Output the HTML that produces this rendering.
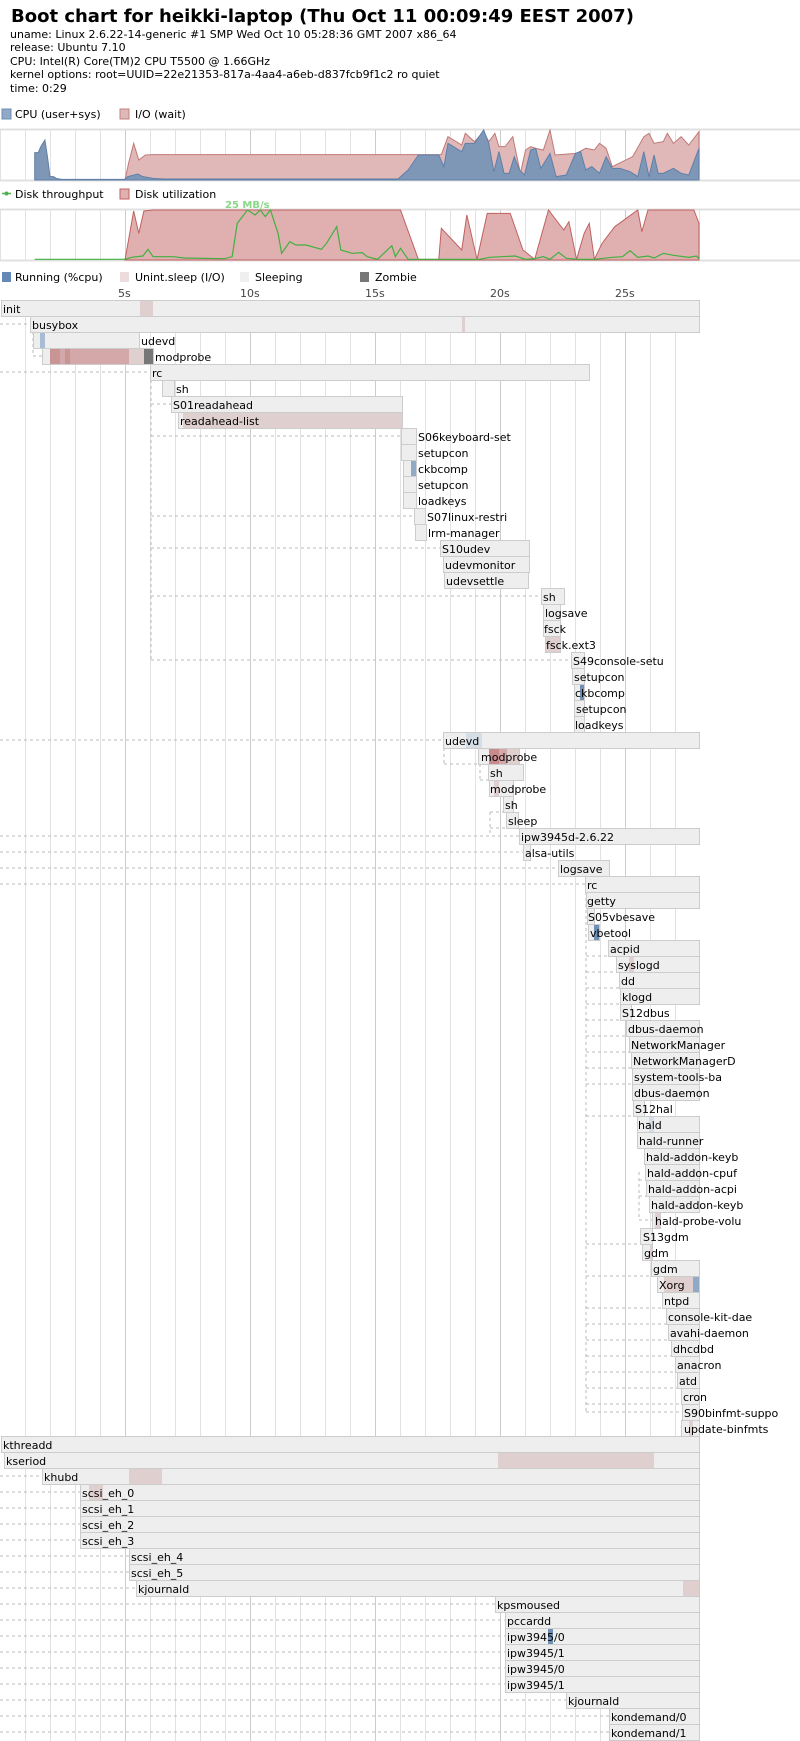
<!DOCTYPE html>
<html><head><meta charset="utf-8"><style>
html,body{margin:0;padding:0;background:#fff;width:800px;height:1741px;overflow:hidden}
svg{display:block}
text{font-family:"DejaVu Sans","Liberation Sans",sans-serif;font-size:11px;fill:#000}
.b{fill:#eeeeee;stroke:#cccccc;stroke-width:1}
.p{fill:#e0cfcf}
.pd{fill:#d4a8a8}
.bl{fill:#8fa9c7}
.lb{fill:#d5dde6}
.d{stroke:#bbbbbb;stroke-dasharray:3,3;fill:none;stroke-width:1}
</style></head><body>
<svg width="800" height="1741" viewBox="0 0 800 1741" xmlns="http://www.w3.org/2000/svg">
<text x="11" y="22" style="font-size:18px;font-weight:bold">Boot chart for heikki-laptop (Thu Oct 11 00:09:49 EEST 2007)</text>
<text x="10" y="38">uname: Linux 2.6.22-14-generic #1 SMP Wed Oct 10 05:28:36 GMT 2007 x86_64</text>
<text x="10" y="51">release: Ubuntu 7.10</text>
<text x="10" y="65">CPU: Intel(R) Core(TM)2 CPU T5500 @ 1.66GHz</text>
<text x="10" y="78">kernel options: root=UUID=22e21353-817a-4aa4-a6eb-d837fcb9f1c2 ro quiet</text>
<text x="10" y="92">time: 0:29</text>

<!-- legend 1 -->
<rect x="2" y="109" width="9" height="10" fill="#8fa9c7" stroke="#6f8fb5"/>
<text x="15" y="118">CPU (user+sys)</text>
<rect x="120" y="109" width="9" height="10" fill="#e0b8b8" stroke="#c08080"/>
<text x="135" y="118">I/O (wait)</text>

<!-- CPU chart -->
<g>
<line x1="0" y1="129.5" x2="800" y2="129.5" stroke="#e0e0e0" stroke-width="2"/>
<line x1="0" y1="180.5" x2="800" y2="180.5" stroke="#e0e0e0" stroke-width="2"/>
<g stroke="#e2e2e2" stroke-width="1">
<line x1="0.5" y1="130" x2="0.5" y2="180"/><line x1="25.5" y1="130" x2="25.5" y2="180"/><line x1="50.5" y1="130" x2="50.5" y2="180"/><line x1="75.5" y1="130" x2="75.5" y2="180"/><line x1="100.5" y1="130" x2="100.5" y2="180"/><line x1="125.5" y1="130" x2="125.5" y2="180" stroke="#ccc"/><line x1="150.5" y1="130" x2="150.5" y2="180"/><line x1="175.5" y1="130" x2="175.5" y2="180"/><line x1="200.5" y1="130" x2="200.5" y2="180"/><line x1="225.5" y1="130" x2="225.5" y2="180"/><line x1="250.5" y1="130" x2="250.5" y2="180" stroke="#ccc"/><line x1="275.5" y1="130" x2="275.5" y2="180"/><line x1="300.5" y1="130" x2="300.5" y2="180"/><line x1="325.5" y1="130" x2="325.5" y2="180"/><line x1="350.5" y1="130" x2="350.5" y2="180"/><line x1="375.5" y1="130" x2="375.5" y2="180" stroke="#ccc"/><line x1="400.5" y1="130" x2="400.5" y2="180"/><line x1="425.5" y1="130" x2="425.5" y2="180"/><line x1="450.5" y1="130" x2="450.5" y2="180"/><line x1="475.5" y1="130" x2="475.5" y2="180"/><line x1="500.5" y1="130" x2="500.5" y2="180" stroke="#ccc"/><line x1="525.5" y1="130" x2="525.5" y2="180"/><line x1="550.5" y1="130" x2="550.5" y2="180"/><line x1="575.5" y1="130" x2="575.5" y2="180"/><line x1="600.5" y1="130" x2="600.5" y2="180"/><line x1="625.5" y1="130" x2="625.5" y2="180" stroke="#ccc"/><line x1="650.5" y1="130" x2="650.5" y2="180"/><line x1="675.5" y1="130" x2="675.5" y2="180"/><line x1="699.5" y1="130" x2="699.5" y2="180"/>
</g>
<g transform="scale(0.5102,0.33333)">
<polygon fill="#e0b8b8" stroke="#c07878" stroke-width="1" vector-effect="non-scaling-stroke" points="245,540 252,490 262,430 272,480 285,465 300,464 865,464 878,410 905,435 912,400 930,425 948,395 958,425 970,400 978,440 990,440 1005,410 1020,520 1030,450 1040,440 1050,445 1065,450 1078,390 1088,465 1130,460 1148,445 1165,450 1175,430 1188,445 1200,500 1240,470 1262,410 1272,400 1282,430 1300,425 1308,400 1320,430 1335,410 1350,435 1370,395 1370,540"/>
<polygon fill="#7f97b7" stroke="#5f7fa8" stroke-width="1" vector-effect="non-scaling-stroke" points="68,540 68,458 75,458 80,440 88,420 93,470 98,530 105,530 110,535 120,538 245,538 250,530 270,522 280,530 300,535 320,537 780,537 800,510 820,465 860,465 870,500 878,430 905,455 912,430 930,430 948,390 958,430 968,515 978,455 988,520 998,520 1008,470 1018,510 1028,525 1040,450 1050,445 1060,505 1078,460 1090,530 1110,525 1128,460 1138,455 1148,510 1160,500 1175,520 1188,470 1200,505 1215,505 1235,515 1250,530 1262,455 1272,530 1282,465 1290,520 1300,520 1320,505 1335,520 1350,525 1370,445 1370,540"/>
</g>
</g>

<!-- legend 2 -->
<line x1="2" y1="193.5" x2="11" y2="193.5" stroke="#50b050" stroke-width="1.5"/>
<circle cx="6.5" cy="193.5" r="2" fill="#50b050"/>
<text x="15" y="198">Disk throughput</text>
<rect x="120" y="189" width="9" height="10" fill="#e0b0b0" stroke="#c06060"/>
<text x="135" y="198">Disk utilization</text>

<!-- disk chart -->
<g>
<line x1="0" y1="209.5" x2="800" y2="209.5" stroke="#e0e0e0" stroke-width="2"/>
<line x1="0" y1="260.5" x2="800" y2="260.5" stroke="#e0e0e0" stroke-width="2"/>
<g stroke="#e2e2e2" stroke-width="1">
<line x1="0.5" y1="210" x2="0.5" y2="260"/><line x1="25.5" y1="210" x2="25.5" y2="260"/><line x1="50.5" y1="210" x2="50.5" y2="260"/><line x1="75.5" y1="210" x2="75.5" y2="260"/><line x1="100.5" y1="210" x2="100.5" y2="260"/><line x1="125.5" y1="210" x2="125.5" y2="260" stroke="#ccc"/><line x1="150.5" y1="210" x2="150.5" y2="260"/><line x1="175.5" y1="210" x2="175.5" y2="260"/><line x1="200.5" y1="210" x2="200.5" y2="260"/><line x1="225.5" y1="210" x2="225.5" y2="260"/><line x1="250.5" y1="210" x2="250.5" y2="260" stroke="#ccc"/><line x1="275.5" y1="210" x2="275.5" y2="260"/><line x1="300.5" y1="210" x2="300.5" y2="260"/><line x1="325.5" y1="210" x2="325.5" y2="260"/><line x1="350.5" y1="210" x2="350.5" y2="260"/><line x1="375.5" y1="210" x2="375.5" y2="260" stroke="#ccc"/><line x1="400.5" y1="210" x2="400.5" y2="260"/><line x1="425.5" y1="210" x2="425.5" y2="260"/><line x1="450.5" y1="210" x2="450.5" y2="260"/><line x1="475.5" y1="210" x2="475.5" y2="260"/><line x1="500.5" y1="210" x2="500.5" y2="260" stroke="#ccc"/><line x1="525.5" y1="210" x2="525.5" y2="260"/><line x1="550.5" y1="210" x2="550.5" y2="260"/><line x1="575.5" y1="210" x2="575.5" y2="260"/><line x1="600.5" y1="210" x2="600.5" y2="260"/><line x1="625.5" y1="210" x2="625.5" y2="260" stroke="#ccc"/><line x1="650.5" y1="210" x2="650.5" y2="260"/><line x1="675.5" y1="210" x2="675.5" y2="260"/><line x1="699.5" y1="210" x2="699.5" y2="260"/>
</g>
<g transform="scale(0.5102,0.33333)">
<polygon fill="#e0b0b0" stroke="#c06060" stroke-width="1" vector-effect="non-scaling-stroke" points="245,780 262,633 272,700 282,633 300,630 785,630 820,778 860,778 865,685 905,750 915,645 935,778 955,640 1000,640 1025,750 1048,778 1075,630 1090,660 1105,690 1115,665 1130,778 1145,700 1155,670 1165,778 1180,730 1205,680 1250,630 1258,695 1270,630 1360,630 1370,670 1370,780"/>
<polyline fill="none" stroke="#40b040" stroke-width="1.2" vector-effect="non-scaling-stroke" points="68,778 245,778 258,772 280,768 290,748 300,770 340,770 360,774 440,776 455,770 465,670 485,630 500,645 510,630 520,650 530,630 545,700 552,760 568,725 580,735 600,735 630,748 640,730 660,680 668,750 690,760 710,758 720,770 740,778 768,737 775,770 785,745 800,778 940,778 960,772 1010,768 1030,778 1048,776 1065,770 1078,778 1095,757 1110,775 1135,778 1165,778 1200,772 1220,770 1235,752 1250,772 1270,768 1282,774 1300,760 1320,766 1350,772 1365,768 1370,776"/>
</g>
<text x="225" y="208" style="font-size:10px;font-weight:bold;fill:#88d888">25 MB/s</text>
</g>

<!-- legend 3 -->
<rect x="2" y="272" width="9" height="10" fill="#6688b8"/>
<text x="15" y="281">Running (%cpu)</text>
<rect x="120" y="272" width="9" height="10" fill="#ecdcdc"/>
<text x="135" y="281">Unint.sleep (I/O)</text>
<rect x="240" y="272" width="9" height="10" fill="#efefef"/>
<text x="255" y="281">Sleeping</text>
<rect x="360" y="272" width="9" height="10" fill="#777777"/>
<text x="375" y="281">Zombie</text>
<text x="118" y="297" style="fill:#444">5s</text>
<text x="240" y="297" style="fill:#444">10s</text>
<text x="365" y="297" style="fill:#444">15s</text>
<text x="490" y="297" style="fill:#444">20s</text>
<text x="615" y="297" style="fill:#444">25s</text>

<!-- process grid -->
<g stroke="#e2e2e2" stroke-width="1">
<line x1="25.5" y1="300" x2="25.5" y2="1741"/><line x1="50.5" y1="300" x2="50.5" y2="1741"/><line x1="75.5" y1="300" x2="75.5" y2="1741"/><line x1="100.5" y1="300" x2="100.5" y2="1741"/><line x1="125.5" y1="300" x2="125.5" y2="1741" stroke="#ccc"/><line x1="150.5" y1="300" x2="150.5" y2="1741"/><line x1="175.5" y1="300" x2="175.5" y2="1741"/><line x1="200.5" y1="300" x2="200.5" y2="1741"/><line x1="225.5" y1="300" x2="225.5" y2="1741"/><line x1="250.5" y1="300" x2="250.5" y2="1741" stroke="#ccc"/><line x1="275.5" y1="300" x2="275.5" y2="1741"/><line x1="300.5" y1="300" x2="300.5" y2="1741"/><line x1="325.5" y1="300" x2="325.5" y2="1741"/><line x1="350.5" y1="300" x2="350.5" y2="1741"/><line x1="375.5" y1="300" x2="375.5" y2="1741" stroke="#ccc"/><line x1="400.5" y1="300" x2="400.5" y2="1741"/><line x1="425.5" y1="300" x2="425.5" y2="1741"/><line x1="450.5" y1="300" x2="450.5" y2="1741"/><line x1="475.5" y1="300" x2="475.5" y2="1741"/><line x1="500.5" y1="300" x2="500.5" y2="1741" stroke="#ccc"/><line x1="525.5" y1="300" x2="525.5" y2="1741"/><line x1="550.5" y1="300" x2="550.5" y2="1741"/><line x1="575.5" y1="300" x2="575.5" y2="1741"/><line x1="600.5" y1="300" x2="600.5" y2="1741"/><line x1="625.5" y1="300" x2="625.5" y2="1741" stroke="#ccc"/><line x1="650.5" y1="300" x2="650.5" y2="1741"/><line x1="675.5" y1="300" x2="675.5" y2="1741"/>
</g>

<!-- connectors -->
<g class="d">
<line x1="0" y1="324" x2="30" y2="324"/><line x1="0" y1="372" x2="150" y2="372"/><line x1="0" y1="740" x2="443" y2="740"/><line x1="0" y1="836" x2="519" y2="836"/><line x1="0" y1="852" x2="523" y2="852"/><line x1="0" y1="868" x2="558" y2="868"/><line x1="0" y1="884" x2="585" y2="884"/>
<line x1="33" y1="332" x2="33" y2="356"/><line x1="33" y1="356" x2="42" y2="356"/>
<line x1="151" y1="380" x2="151" y2="660"/>
<line x1="151" y1="404" x2="171" y2="404"/><line x1="151" y1="436" x2="401" y2="436"/><line x1="151" y1="516" x2="414" y2="516"/><line x1="151" y1="548" x2="440" y2="548"/><line x1="151" y1="596" x2="541" y2="596"/><line x1="151" y1="660" x2="571" y2="660"/>
<line x1="444" y1="748" x2="444" y2="764"/><line x1="444" y1="764" x2="478" y2="764"/>
<line x1="480" y1="764" x2="480" y2="780"/><line x1="480" y1="780" x2="488" y2="780"/>
<line x1="490" y1="812" x2="490" y2="836"/><line x1="490" y1="812" x2="506" y2="812"/><line x1="490" y1="828" x2="506" y2="828"/>
<line x1="586" y1="892" x2="586" y2="1412"/>
<line x1="586" y1="956" x2="608" y2="956"/><line x1="586" y1="972" x2="616" y2="972"/><line x1="586" y1="988" x2="619" y2="988"/><line x1="586" y1="1004" x2="620" y2="1004"/><line x1="586" y1="1020" x2="620" y2="1020"/><line x1="586" y1="1036" x2="626" y2="1036"/><line x1="586" y1="1052" x2="629" y2="1052"/><line x1="586" y1="1068" x2="631" y2="1068"/><line x1="586" y1="1084" x2="632" y2="1084"/><line x1="586" y1="1116" x2="633" y2="1116"/><line x1="586" y1="1244" x2="640" y2="1244"/><line x1="586" y1="1276" x2="651" y2="1276"/><line x1="586" y1="1308" x2="662" y2="1308"/><line x1="586" y1="1324" x2="666" y2="1324"/><line x1="586" y1="1340" x2="668" y2="1340"/><line x1="586" y1="1356" x2="671" y2="1356"/><line x1="586" y1="1372" x2="675" y2="1372"/><line x1="586" y1="1388" x2="677" y2="1388"/><line x1="586" y1="1404" x2="681" y2="1404"/><line x1="586" y1="1412" x2="682" y2="1412"/>
<line x1="639" y1="1172" x2="639" y2="1220"/><line x1="639" y1="1196" x2="652" y2="1196"/><line x1="639" y1="1220" x2="652" y2="1220"/><line x1="639" y1="1180" x2="645" y2="1180"/>
<line x1="0" y1="1476" x2="42" y2="1476"/><line x1="0" y1="1492" x2="80" y2="1492"/><line x1="0" y1="1508" x2="80" y2="1508"/><line x1="0" y1="1524" x2="80" y2="1524"/><line x1="0" y1="1540" x2="80" y2="1540"/><line x1="0" y1="1556" x2="129" y2="1556"/><line x1="0" y1="1572" x2="129" y2="1572"/><line x1="0" y1="1588" x2="136" y2="1588"/><line x1="0" y1="1604" x2="495" y2="1604"/><line x1="0" y1="1620" x2="505" y2="1620"/><line x1="0" y1="1636" x2="505" y2="1636"/><line x1="0" y1="1652" x2="505" y2="1652"/><line x1="0" y1="1668" x2="505" y2="1668"/><line x1="0" y1="1684" x2="505" y2="1684"/><line x1="0" y1="1700" x2="566" y2="1700"/><line x1="0" y1="1716" x2="609" y2="1716"/><line x1="0" y1="1732" x2="609" y2="1732"/>
</g>

<!-- processes -->
<rect class="b" x="1.5" y="300.5" width="698" height="16"/><rect class="p" x="140" y="301" width="13" height="15"/><text x="3" y="313">init</text>
<rect class="b" x="30.5" y="316.5" width="669" height="16"/><rect class="p" x="462" y="317" width="3" height="15"/><text x="32" y="329">busybox</text>
<rect class="b" x="33.5" y="332.5" width="106" height="16"/><rect x="40" y="333" width="5" height="15" fill="#a8bdd4"/><text x="141" y="345">udevd</text>
<rect class="b" x="42.5" y="348.5" width="111" height="16"/><rect class="pd" x="50" y="349" width="79" height="15"/><rect x="50" y="349" width="10" height="15" fill="#c89494"/><rect x="65" y="349" width="5" height="15" fill="#c89494"/><rect class="p" x="129" y="349" width="15" height="15"/><rect x="144" y="349" width="9" height="15" fill="#777"/><text x="155" y="361">modprobe</text>
<rect class="b" x="150.5" y="364.5" width="439" height="16"/><text x="152" y="377">rc</text>
<rect class="b" x="162.5" y="380.5" width="12" height="16"/><text x="176" y="393">sh</text>
<rect class="b" x="171.5" y="396.5" width="231" height="16"/><text x="173" y="409">S01readahead</text>
<rect class="b" x="178.5" y="412.5" width="224" height="16"/><rect class="p" x="183" y="413" width="219" height="15"/><text x="180" y="425">readahead-list</text>
<rect class="b" x="401.5" y="428.5" width="15" height="16"/><text x="418" y="441">S06keyboard-set</text>
<rect class="b" x="401.5" y="444.5" width="15" height="16"/><text x="418" y="457">setupcon</text>
<rect class="b" x="403.5" y="460.5" width="13" height="16"/><rect class="bl" x="411" y="461" width="5" height="15"/><text x="418" y="473">ckbcomp</text>
<rect class="b" x="403.5" y="476.5" width="13" height="16"/><text x="418" y="489">setupcon</text>
<rect class="b" x="403.5" y="492.5" width="13" height="16"/><text x="418" y="505">loadkeys</text>
<rect class="b" x="414.5" y="508.5" width="11" height="16"/><text x="427" y="521">S07linux-restri</text>
<rect class="b" x="415.5" y="524.5" width="11" height="16"/><text x="428" y="537">lrm-manager</text>
<rect class="b" x="440.5" y="540.5" width="89" height="16"/><text x="442" y="553">S10udev</text>
<rect class="b" x="443.5" y="556.5" width="86" height="16"/><text x="445" y="569">udevmonitor</text>
<rect class="b" x="444.5" y="572.5" width="84" height="16"/><text x="446" y="585">udevsettle</text>
<rect class="b" x="541.5" y="588.5" width="23" height="16"/><text x="543" y="601">sh</text>
<rect class="b" x="543.5" y="604.5" width="17" height="16"/><text x="545" y="617">logsave</text>
<rect class="b" x="543.5" y="620.5" width="17" height="16"/><text x="544" y="633">fsck</text>
<rect class="b" x="545.5" y="636.5" width="15" height="16"/><rect class="p" x="546" y="637" width="14" height="15"/><text x="546" y="649">fsck.ext3</text>
<rect class="b" x="571.5" y="652.5" width="13" height="16"/><text x="573" y="665">S49console-setu</text>
<rect class="b" x="572.5" y="668.5" width="12" height="16"/><text x="574" y="681">setupcon</text>
<rect class="b" x="574.5" y="684.5" width="10" height="16"/><rect x="580" y="685" width="4" height="15" fill="#6f8fb5"/><text x="575" y="697">ckbcomp</text>
<rect class="b" x="574.5" y="700.5" width="10" height="16"/><text x="576" y="713">setupcon</text>
<rect class="b" x="574.5" y="716.5" width="10" height="16"/><text x="575" y="729">loadkeys</text>
<rect class="b" x="443.5" y="732.5" width="256" height="16"/><rect class="lb" x="466" y="733" width="16" height="15"/><text x="445" y="745">udevd</text>
<rect class="b" x="478.5" y="748.5" width="41" height="16"/><rect class="p" x="489" y="749" width="30" height="15"/><rect x="489" y="749" width="10" height="15" fill="#c88a8a"/><rect x="499" y="749" width="8" height="15" fill="#d4a8a8"/><text x="481" y="761">modprobe</text>
<rect class="b" x="488.5" y="764.5" width="35" height="16"/><text x="490" y="777">sh</text>
<rect class="b" x="489.5" y="780.5" width="24" height="16"/><rect class="p" x="494" y="781" width="5" height="15"/><text x="490" y="793">modprobe</text>
<rect class="b" x="503.5" y="796.5" width="10" height="16"/><text x="505" y="809">sh</text>
<rect class="b" x="506.5" y="812.5" width="12" height="16"/><text x="508" y="825">sleep</text>
<rect class="b" x="519.5" y="828.5" width="180" height="16"/><text x="521" y="841">ipw3945d-2.6.22</text>
<rect class="b" x="523.5" y="844.5" width="7" height="16"/><text x="525" y="857">alsa-utils</text>
<rect class="b" x="558.5" y="860.5" width="51" height="16"/><text x="560" y="873">logsave</text>
<rect class="b" x="585.5" y="876.5" width="114" height="16"/><text x="587" y="889">rc</text>
<rect class="b" x="586.5" y="892.5" width="113" height="16"/><text x="587" y="905">getty</text>
<rect class="b" x="587.5" y="908.5" width="7" height="16"/><text x="588" y="921">S05vbesave</text>
<rect class="b" x="588.5" y="924.5" width="11" height="16"/><rect x="594" y="925" width="5" height="15" fill="#6f8fb5"/><text x="590" y="937">vbetool</text>
<rect class="b" x="608.5" y="940.5" width="91" height="16"/><text x="610" y="953">acpid</text>
<rect class="b" x="616.5" y="956.5" width="83" height="16"/><rect class="p" x="629" y="957" width="5" height="15"/><text x="618" y="969">syslogd</text>
<rect class="b" x="619.5" y="972.5" width="80" height="16"/><text x="621" y="985">dd</text>
<rect class="b" x="620.5" y="988.5" width="79" height="16"/><text x="622" y="1001">klogd</text>
<rect class="b" x="620.5" y="1004.5" width="11" height="16"/><text x="622" y="1017">S12dbus</text>
<rect class="b" x="626.5" y="1020.5" width="73" height="16"/><text x="628" y="1033">dbus-daemon</text>
<rect class="b" x="629.5" y="1036.5" width="70" height="16"/><text x="631" y="1049">NetworkManager</text>
<rect class="b" x="631.5" y="1052.5" width="68" height="16"/><text x="633" y="1065">NetworkManagerD</text>
<rect class="b" x="632.5" y="1068.5" width="67" height="16"/><text x="634" y="1081">system-tools-ba</text>
<rect class="b" x="632.5" y="1084.5" width="67" height="16"/><text x="634" y="1097">dbus-daemon</text>
<rect class="b" x="633.5" y="1100.5" width="11" height="16"/><text x="635" y="1113">S12hal</text>
<rect class="b" x="637.5" y="1116.5" width="62" height="16"/><rect class="lb" x="649" y="1117" width="5" height="15"/><text x="638" y="1129">hald</text>
<rect class="b" x="637.5" y="1132.5" width="62" height="16"/><text x="639" y="1145">hald-runner</text>
<rect class="b" x="644.5" y="1148.5" width="55" height="16"/><text x="646" y="1161">hald-addon-keyb</text>
<rect class="b" x="645.5" y="1164.5" width="54" height="16"/><text x="647" y="1177">hald-addon-cpuf</text>
<rect class="b" x="646.5" y="1180.5" width="53" height="16"/><text x="648" y="1193">hald-addon-acpi</text>
<rect class="b" x="649.5" y="1196.5" width="50" height="16"/><text x="651" y="1209">hald-addon-keyb</text>
<rect class="b" x="652.5" y="1212.5" width="8" height="16"/><rect class="p" x="655" y="1213" width="5" height="15"/><text x="655" y="1225">hald-probe-volu</text>
<rect class="b" x="640.5" y="1228.5" width="12" height="16"/><text x="643" y="1241">S13gdm</text>
<rect class="b" x="642.5" y="1244.5" width="10" height="16"/><rect class="p" x="650" y="1245" width="2" height="15"/><text x="644" y="1257">gdm</text>
<rect class="b" x="651.5" y="1260.5" width="48" height="16"/><text x="653" y="1273">gdm</text>
<rect class="b" x="657.5" y="1276.5" width="42" height="16"/><rect class="p" x="664" y="1277" width="29" height="15"/><rect class="bl" x="693" y="1277" width="6" height="15"/><text x="659" y="1289">Xorg</text>
<rect class="b" x="662.5" y="1292.5" width="37" height="16"/><text x="664" y="1305">ntpd</text>
<rect class="b" x="666.5" y="1308.5" width="33" height="16"/><text x="668" y="1321">console-kit-dae</text>
<rect class="b" x="668.5" y="1324.5" width="31" height="16"/><text x="670" y="1337">avahi-daemon</text>
<rect class="b" x="671.5" y="1340.5" width="28" height="16"/><text x="673" y="1353">dhcdbd</text>
<rect class="b" x="675.5" y="1356.5" width="24" height="16"/><text x="677" y="1369">anacron</text>
<rect class="b" x="677.5" y="1372.5" width="22" height="16"/><text x="679" y="1385">atd</text>
<rect class="b" x="681.5" y="1388.5" width="18" height="16"/><text x="683" y="1401">cron</text>
<rect class="b" x="682.5" y="1404.5" width="17" height="16"/><text x="684" y="1417">S90binfmt-suppo</text>
<rect class="b" x="681.5" y="1420.5" width="18" height="16"/><rect class="p" x="689" y="1421" width="4" height="15"/><text x="684" y="1433">update-binfmts</text>
<rect class="b" x="1.5" y="1436.5" width="698" height="16"/><text x="3" y="1449">kthreadd</text>
<rect class="b" x="4.5" y="1452.5" width="695" height="16"/><rect class="p" x="498" y="1453" width="156" height="15"/><text x="6" y="1465">kseriod</text>
<rect class="b" x="42.5" y="1468.5" width="657" height="16"/><rect class="p" x="129" y="1469" width="33" height="15"/><text x="44" y="1481">khubd</text>
<rect class="b" x="80.5" y="1484.5" width="619" height="16"/><rect class="p" x="89" y="1485" width="14" height="15"/><text x="82" y="1497">scsi_eh_0</text>
<rect class="b" x="80.5" y="1500.5" width="619" height="16"/><text x="82" y="1513">scsi_eh_1</text>
<rect class="b" x="80.5" y="1516.5" width="619" height="16"/><text x="82" y="1529">scsi_eh_2</text>
<rect class="b" x="80.5" y="1532.5" width="619" height="16"/><text x="82" y="1545">scsi_eh_3</text>
<rect class="b" x="129.5" y="1548.5" width="570" height="16"/><text x="131" y="1561">scsi_eh_4</text>
<rect class="b" x="129.5" y="1564.5" width="570" height="16"/><text x="131" y="1577">scsi_eh_5</text>
<rect class="b" x="136.5" y="1580.5" width="563" height="16"/><rect class="p" x="683" y="1581" width="16" height="15"/><text x="138" y="1593">kjournald</text>
<rect class="b" x="495.5" y="1596.5" width="204" height="16"/><text x="497" y="1609">kpsmoused</text>
<rect class="b" x="505.5" y="1612.5" width="194" height="16"/><text x="507" y="1625">pccardd</text>
<rect class="b" x="505.5" y="1628.5" width="194" height="16"/><rect x="548" y="1629" width="5" height="15" fill="#6f8fb5"/><text x="507" y="1641">ipw3945/0</text>
<rect class="b" x="505.5" y="1644.5" width="194" height="16"/><text x="507" y="1657">ipw3945/1</text>
<rect class="b" x="505.5" y="1660.5" width="194" height="16"/><text x="507" y="1673">ipw3945/0</text>
<rect class="b" x="505.5" y="1676.5" width="194" height="16"/><text x="507" y="1689">ipw3945/1</text>
<rect class="b" x="566.5" y="1692.5" width="133" height="16"/><text x="568" y="1705">kjournald</text>
<rect class="b" x="609.5" y="1708.5" width="90" height="16"/><text x="611" y="1721">kondemand/0</text>
<rect class="b" x="609.5" y="1724.5" width="90" height="16"/><text x="611" y="1737">kondemand/1</text>
</svg>
</body></html>
